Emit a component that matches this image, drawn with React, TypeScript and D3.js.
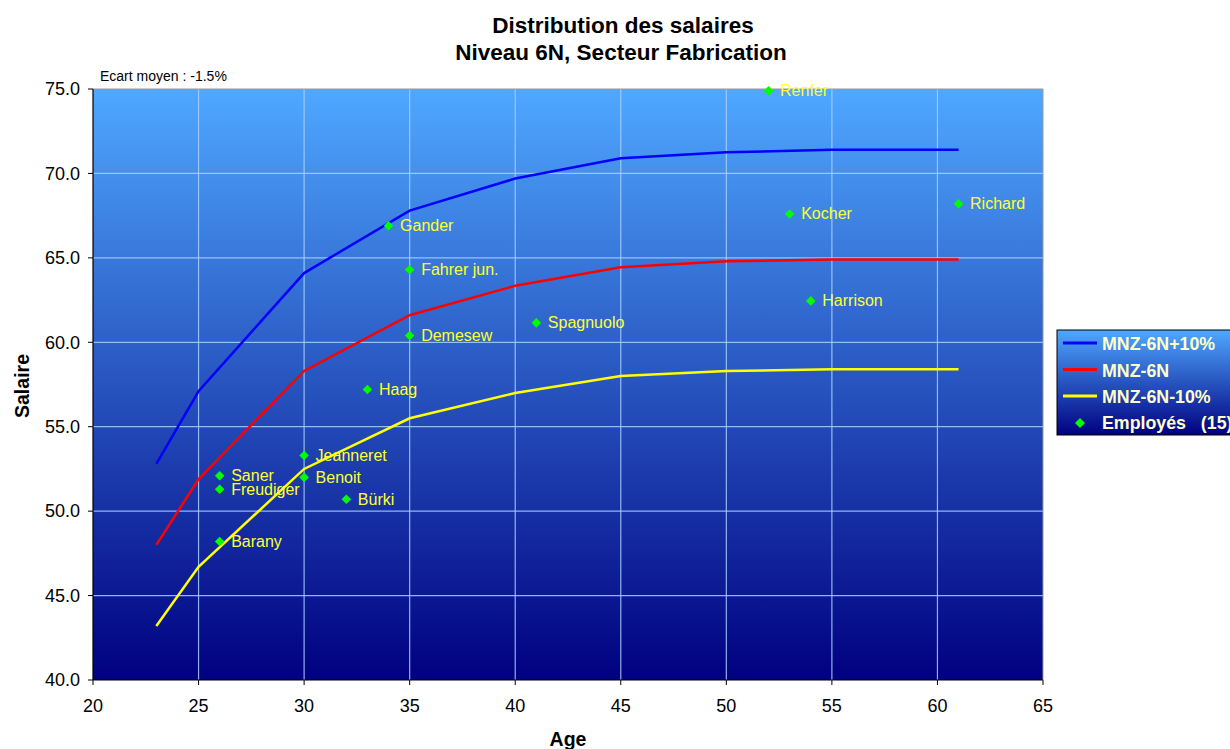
import React from "react";
import * as d3 from "d3";

const ages = [23, 25, 30, 35, 40, 45, 50, 55, 61];
const plus10 = [52.8, 57.1, 64.1, 67.8, 69.7, 70.9, 71.25, 71.4, 71.4];
const mnz = [48.0, 51.9, 58.3, 61.6, 63.35, 64.45, 64.8, 64.9, 64.9];
const minus10 = [43.2, 46.7, 52.5, 55.5, 57.0, 58.0, 58.3, 58.4, 58.4];

const empNames = ["Renfer", "Richard", "Kocher", "Gander", "Fahrer jun.", "Harrison", "Spagnuolo", "Demesew", "Haag", "Jeanneret", "Saner", "Benoit", "Freudiger", "Bürki", "Barany"];
const empAges = [52, 61, 53, 34, 35, 54, 41, 35, 33, 30, 26, 30, 26, 32, 26];
const empSal = [74.9, 68.2, 67.6, 66.9, 64.3, 62.45, 61.15, 60.4, 57.2, 53.3, 52.1, 52.0, 51.3, 50.7, 48.2];

const xTicks = [20, 25, 30, 35, 40, 45, 50, 55, 60, 65];
const yTicks = [40, 45, 50, 55, 60, 65, 70, 75];

const seriesNames = ["MNZ-6N+10%", "MNZ-6N", "MNZ-6N-10%"];
const seriesColors = ["#0000ff", "#ff0000", "#ffff00"];

export default function App() {
  const W = 1230, H = 749;
  const L = 93, R = 1043, T = 89, B = 680;
  const x = d3.scaleLinear().domain([20, 65]).range([L, R]);
  const y = d3.scaleLinear().domain([40, 75]).range([B, T]);
  const line = d3.line<[number, number]>().x(d => x(d[0])).y(d => y(d[1]));
  const series = [plus10, mnz, minus10];
  const font = "Arial, 'Liberation Sans', sans-serif";
  const diamond = (cx: number, cy: number, r: number) =>
    `M${cx},${cy - r}L${cx + r},${cy}L${cx},${cy + r}L${cx - r},${cy}Z`;
  const legY = [343, 369.5, 396];

  return (
    <svg width={W} height={H} style={{ position: "absolute", left: 0, top: 0, display: "block" }} fontFamily={font}>
      <defs>
        <linearGradient id="bg" x1="0" y1="0" x2="0" y2="1">
          <stop offset="0" stopColor="#4fa8ff" />
          <stop offset="1" stopColor="#000080" />
        </linearGradient>
        <linearGradient id="lg" x1="0" y1="0" x2="0" y2="1">
          <stop offset="0" stopColor="#4fa8ff" />
          <stop offset="1" stopColor="#000080" />
        </linearGradient>
      </defs>
      <rect x={0} y={0} width={W} height={H} fill="#fff" />
      <text x={623} y={32.5} textAnchor="middle" fontSize={22.5} fontWeight="bold">Distribution des salaires</text>
      <text x={621} y={60} textAnchor="middle" fontSize={22.5} fontWeight="bold">Niveau 6N, Secteur Fabrication</text>
      <text x={100} y={81} fontSize={14}>Ecart moyen : -1.5%</text>

      <rect x={L} y={T} width={R - L} height={B - T} fill="url(#bg)" />
      {xTicks.slice(1, -1).map(t => (
        <line key={"gx" + t} x1={x(t)} x2={x(t)} y1={T} y2={B} stroke="#a8d0ff" strokeWidth={1.2} opacity={0.85} />
      ))}
      {yTicks.slice(1, -1).map(t => (
        <line key={"gy" + t} x1={L} x2={R} y1={y(t)} y2={y(t)} stroke="#a8d0ff" strokeWidth={1.2} opacity={0.85} />
      ))}
      <line x1={L} x2={R} y1={T} y2={T} stroke="#999" strokeWidth={1} />
      <line x1={R} x2={R} y1={T} y2={B} stroke="#999" strokeWidth={1} />
      <line x1={L} x2={L} y1={T} y2={B} stroke="#000" strokeWidth={1.2} />
      <line x1={L} x2={R} y1={B} y2={B} stroke="#000" strokeWidth={1.2} />

      {yTicks.map(t => (
        <g key={"yt" + t}>
          <line x1={L - 5} x2={L} y1={y(t)} y2={y(t)} stroke="#000" />
          <text x={80} y={y(t) + 6.3} textAnchor="end" fontSize={18}>{t.toFixed(1)}</text>
        </g>
      ))}
      {xTicks.map(t => (
        <g key={"xt" + t}>
          <line x1={x(t)} x2={x(t)} y1={B} y2={B + 5} stroke="#000" />
          <text x={x(t)} y={712} textAnchor="middle" fontSize={18}>{t}</text>
        </g>
      ))}
      <text x={568} y={746} textAnchor="middle" fontSize={19.5} fontWeight="bold">Age</text>
      <text transform={`translate(28.5,386) rotate(-90)`} textAnchor="middle" fontSize={19.5} fontWeight="bold">Salaire</text>

      {series.map((s, i) => (
        <path key={"s" + i} d={line(ages.map((a, j) => [a, s[j]]) as [number, number][]) || ""} fill="none" stroke={seriesColors[i]} strokeWidth={2.5} />
      ))}

      {empNames.map((n, i) => (
        <g key={"e" + i}>
          <path d={diamond(x(empAges[i]), y(empSal[i]), 4.8)} fill="#00ff00" />
          <text x={x(empAges[i]) + 11.5} y={y(empSal[i]) + 5.5} fontSize={16} fill="#ffff33">{n}</text>
        </g>
      ))}

      <rect x={1057} y={330} width={180} height={105} fill="url(#lg)" stroke="#000" strokeWidth={1} />
      {seriesNames.map((n, i) => (
        <g key={"l" + i}>
          <line x1={1063} x2={1097} y1={legY[i]} y2={legY[i]} stroke={seriesColors[i]} strokeWidth={3} />
          <text x={1102} y={legY[i] + 7} fontSize={17.8} fontWeight="bold" fill="#ffffcc">{n}</text>
        </g>
      ))}
      <path d={diamond(1080, 423, 5)} fill="#00ff00" />
      <text x={1102} y={429} fontSize={17.8} fontWeight="bold" fill="#ffffcc" style={{ whiteSpace: "pre" }}>{"Employés   (15)"}</text>
    </svg>
  );
}
